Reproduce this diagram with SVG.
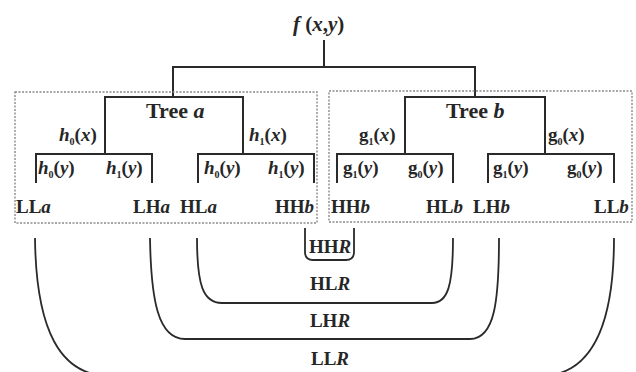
<svg xmlns="http://www.w3.org/2000/svg" width="636" height="372" viewBox="0 0 636 372">
<style>
text{font-family:"Liberation Serif","Times New Roman",serif;fill:#262626;font-weight:bold}
.lab{font-size:19px}
.fn{font-size:19px}
.i{font-style:italic}
.sub{font-size:10px}
.tree{fill:none;stroke:#2a2a2a;stroke-width:2}
.box{fill:none;stroke:#8a8a8a;stroke-width:1.4;stroke-dasharray:2 1.5}
.conn{fill:none;stroke:#2a2a2a;stroke-width:1.8}
</style>
<rect width="636" height="372" fill="#fff"/>
<g id="root">
<text x="293" y="31" style="font-size:21px"><tspan class="i">f</tspan> (<tspan class="i">x</tspan>,<tspan class="i">y</tspan>)</text>
<path class="tree" d="M324,40V67M173,97V67H475V97"/>
</g>
<g id="treeA">
<rect class="box" x="15" y="92" width="302" height="131"/>
<path class="tree" d="M105,154V97H243V154M36,183V154H152V183M198,183V154H314V183"/>
<text x="146" y="118" style="font-size:22px">Tree <tspan class="i">a</tspan></text>
<text class="fn" x="59" y="141"><tspan class="i">h</tspan><tspan class="sub" dy="4">0</tspan><tspan dy="-4">(</tspan><tspan class="i">x</tspan>)</text>
<text class="fn" x="249" y="141"><tspan class="i">h</tspan><tspan class="sub" dy="4">1</tspan><tspan dy="-4">(</tspan><tspan class="i">x</tspan>)</text>
<text class="fn" x="38" y="174"><tspan class="i">h</tspan><tspan class="sub" dy="4">0</tspan><tspan dy="-4">(</tspan><tspan class="i">y</tspan>)</text>
<text class="fn" x="106" y="174"><tspan class="i">h</tspan><tspan class="sub" dy="4">1</tspan><tspan dy="-4">(</tspan><tspan class="i">y</tspan>)</text>
<text class="fn" x="204" y="174"><tspan class="i">h</tspan><tspan class="sub" dy="4">0</tspan><tspan dy="-4">(</tspan><tspan class="i">y</tspan>)</text>
<text class="fn" x="268" y="174"><tspan class="i">h</tspan><tspan class="sub" dy="4">1</tspan><tspan dy="-4">(</tspan><tspan class="i">y</tspan>)</text>
<text class="lab" x="16" y="213">LL<tspan class="i">a</tspan></text>
<text class="lab" x="133" y="213">LH<tspan class="i">a</tspan></text>
<text class="lab" x="180" y="213">HL<tspan class="i">a</tspan></text>
<text class="lab" x="275" y="213">HH<tspan class="i">b</tspan></text>
</g>
<g id="treeB">
<rect class="box" x="329" y="91" width="303" height="131"/>
<path class="tree" d="M405,154V97H545V154M337,183V154H453V183M488,183V154H614V183"/>
<text x="446" y="118" style="font-size:22px">Tree <tspan class="i">b</tspan></text>
<text class="fn" x="359" y="141">g<tspan class="sub" dy="4">1</tspan><tspan dy="-4">(</tspan><tspan class="i">x</tspan>)</text>
<text class="fn" x="548" y="141">g<tspan class="sub" dy="4">0</tspan><tspan dy="-4">(</tspan><tspan class="i">x</tspan>)</text>
<text class="fn" x="343" y="174">g<tspan class="sub" dy="4">1</tspan><tspan dy="-4">(</tspan><tspan class="i">y</tspan>)</text>
<text class="fn" x="408" y="174">g<tspan class="sub" dy="4">0</tspan><tspan dy="-4">(</tspan><tspan class="i">y</tspan>)</text>
<text class="fn" x="493" y="174">g<tspan class="sub" dy="4">1</tspan><tspan dy="-4">(</tspan><tspan class="i">y</tspan>)</text>
<text class="fn" x="567" y="174">g<tspan class="sub" dy="4">0</tspan><tspan dy="-4">(</tspan><tspan class="i">y</tspan>)</text>
<text class="lab" x="331" y="213">HH<tspan class="i">b</tspan></text>
<text class="lab" x="426" y="213">HL<tspan class="i">b</tspan></text>
<text class="lab" x="473" y="213">LH<tspan class="i">b</tspan></text>
<text class="lab" x="594" y="213">LL<tspan class="i">b</tspan></text>
</g>
<g id="connectors">
<path class="conn" d="M305,228V252Q305,260 313,260H346Q354,260 354,252V228"/>
<path class="conn" d="M197,238C197,285 203,303 222,303H432C448,303 453,285 453,238"/>
<path class="conn" d="M150,238C151,300 158,339 185,339H470C495,339 499,300 499,238"/>
<path class="conn" d="M35,238C36,330 60,376 110,376H540C590,376 614,330 614,238"/>
</g>
<g id="connector-labels">
<text class="lab" x="330" y="253" text-anchor="middle">HH<tspan class="i">R</tspan></text>
<text class="lab" x="330" y="290" text-anchor="middle">HL<tspan class="i">R</tspan></text>
<text class="lab" x="330" y="327" text-anchor="middle">LH<tspan class="i">R</tspan></text>
<text class="lab" x="330" y="365" text-anchor="middle">LL<tspan class="i">R</tspan></text>
</g>
</svg>
